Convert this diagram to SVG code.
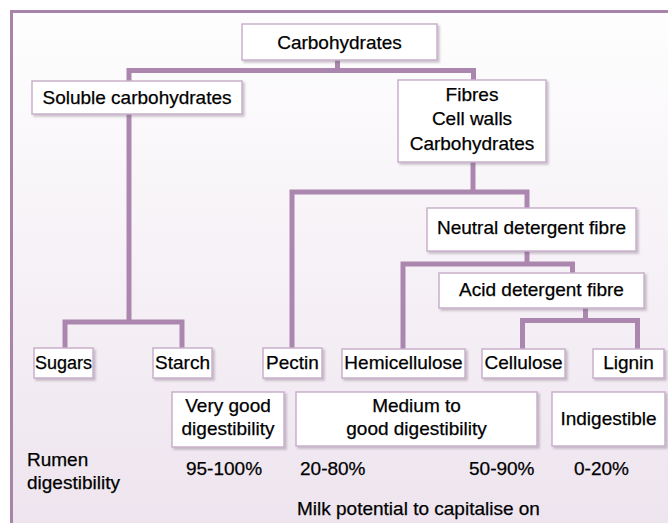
<svg xmlns="http://www.w3.org/2000/svg" width="668" height="523" viewBox="0 0 668 523">
<defs>
<linearGradient id="bg" x1="0" y1="0" x2="0" y2="1">
<stop offset="0" stop-color="#fefefe"/>
<stop offset="1" stop-color="#ede3ee"/>
</linearGradient>
<filter id="sh" x="-10%" y="-10%" width="130%" height="140%">
<feDropShadow dx="2" dy="2" stdDeviation="1.3" flood-color="#6b5a6e" flood-opacity="0.35"/>
</filter>
</defs>
<style>
.box{fill:#ffffff;stroke:#c9b0cc;stroke-width:1.5;filter:url(#sh)}
.t{font-family:"Liberation Sans",Arial,sans-serif;font-size:19px;fill:#000000;stroke:#000000;stroke-width:0.25}
.c{text-anchor:middle}
.con{fill:none;stroke:#ab87af;stroke-width:5;stroke-linejoin:miter;stroke-linecap:butt}
</style>
<rect x="0" y="0" width="668" height="523" fill="#ffffff"/>
<rect x="11.5" y="11.5" width="680" height="540" fill="url(#bg)" stroke="#a884ab" stroke-width="3"/>

<g id="connectors">
<path class="con" d="M337.5 60 V70.5 M129 81 V70.5 H473.5 V80"/>
<path class="con" d="M129 114 V322 M65 348 V322 H182 V348"/>
<path class="con" d="M473 162 V192 M292 348 V192 H527 V208"/>
<path class="con" d="M527 251 V264 M403 349 V264 H572.5 V273"/>
<path class="con" d="M585.5 308 V320.5 M522.5 349 V320.5 H637.5 V349"/>
</g>

<g id="carbohydrates">
<rect class="box" x="242" y="24" width="195" height="36"/>
<text class="t c" x="339.5" y="49">Carbohydrates</text>
</g>
<g id="soluble">
<rect class="box" x="32" y="81" width="210" height="33"/>
<text class="t c" x="137" y="104">Soluble carbohydrates</text>
</g>
<g id="fibres">
<rect class="box" x="398" y="80" width="148" height="82"/>
<text class="t c" x="472" y="101">Fibres</text>
<text class="t c" x="472" y="125">Cell walls</text>
<text class="t c" x="472" y="150">Carbohydrates</text>
</g>
<g id="ndf">
<rect class="box" x="427" y="208" width="209" height="43"/>
<text class="t c" x="531.5" y="234">Neutral detergent fibre</text>
</g>
<g id="adf">
<rect class="box" x="439" y="273" width="205" height="35"/>
<text class="t c" x="541.5" y="296">Acid detergent fibre</text>
</g>
<g id="sugars">
<rect class="box" x="34" y="348" width="59" height="30"/>
<text class="t c" x="63.5" y="369" style="font-size:18px">Sugars</text>
</g>
<g id="starch">
<rect class="box" x="153" y="348" width="59" height="30"/>
<text class="t c" x="182.5" y="369">Starch</text>
</g>
<g id="pectin">
<rect class="box" x="263" y="348" width="59" height="30"/>
<text class="t c" x="292.5" y="369">Pectin</text>
</g>
<g id="hemicellulose">
<rect class="box" x="342" y="349" width="123" height="29"/>
<text class="t c" x="403.5" y="369">Hemicellulose</text>
</g>
<g id="cellulose">
<rect class="box" x="482" y="349" width="83" height="29"/>
<text class="t c" x="523.5" y="369">Cellulose</text>
</g>
<g id="lignin">
<rect class="box" x="593" y="349" width="71" height="29"/>
<text class="t c" x="628.5" y="369">Lignin</text>
</g>
<g id="verygood">
<rect class="box" x="172" y="392" width="112" height="55"/>
<text class="t c" x="228" y="412">Very good</text>
<text class="t c" x="228" y="435">digestibility</text>
</g>
<g id="medium">
<rect class="box" x="296" y="392" width="241" height="54"/>
<text class="t c" x="416.5" y="412">Medium to</text>
<text class="t c" x="416.5" y="435">good digestibility</text>
</g>
<g id="indigestible">
<rect class="box" x="552" y="392" width="113" height="54"/>
<text class="t c" x="608.5" y="425">Indigestible</text>
</g>

<g id="labels">
<text class="t" x="27" y="466">Rumen</text>
<text class="t" x="27" y="489">digestibility</text>
<text class="t c" x="224" y="475">95-100%</text>
<text class="t" x="300" y="475">20-80%</text>
<text class="t" x="469" y="475">50-90%</text>
<text class="t" x="574" y="475">0-20%</text>
<text class="t" x="297" y="515">Milk potential to capitalise on</text>
</g>
</svg>
